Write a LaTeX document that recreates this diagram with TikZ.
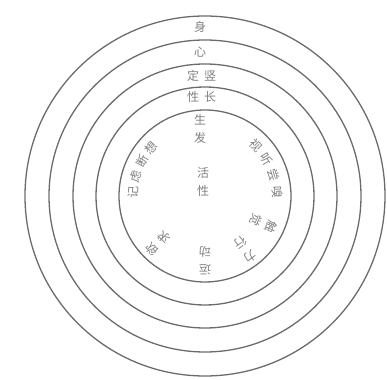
\documentclass[tikz,border=0pt]{standalone}
\usepackage{fontspec}
\newfontfamily\cjk{Noto Sans CJK SC}
\definecolor{ringgray}{gray}{0.42}
\definecolor{textgray}{gray}{0.5}
\tikzset{
  ring/.style={draw=ringgray, line width=1.3pt},
  lbl/.style={text=textgray, font=\cjk\fontsize{12}{12}\selectfont, inner sep=0pt},
}
\begin{document}
\begin{tikzpicture}[x=1pt,y=1pt]
\useasboundingbox (-205,-183) rectangle (182,196);
\coordinate (O) at (0,0);
\draw[ring] (O) circle[radius=86];
\draw[ring] (O) circle[radius=109];
\draw[ring] (O) circle[radius=132];
\draw[ring] (O) circle[radius=156];
\draw[ring] (O) circle[radius=180];
% ring labels
\node[lbl] (shen) at (-5,169) {身};
\node[lbl] (xin) at (-5,144) {心};
\node[lbl] (ding) at (-12,120) {定};
\node[lbl] (shu) at (5,120) {竖};
\node[lbl] (xing) at (-12,99) {性};
\node[lbl] (zhang) at (5,99) {长};
% inner centre
\node[lbl] (sheng) at (-5,76) {生};
\node[lbl] (fa) at (-5,58) {发};
\node[lbl] (huo) at (-2,23) {活};
\node[lbl] (xing2) at (-2,5) {性};
% arc: 视听尝嗅
\foreach \a/\c [count=\i] in {45/视,31/听,17/尝,3/嗅}{
  \node[lbl, rotate=\a-90] (r\i) at (\a:72) {\c};
}
% arc: 记虑断想
\foreach \a/\c [count=\i] in {177/记,164/虑,151/断,138/想}{
  \node[lbl, rotate=\a-90] (l\i) at (\a:72) {\c};
}
% radial pairs
\node[lbl, rotate=-115] (chu) at (-25:73) {触};
\node[lbl, rotate=-115] (jue) at (-25:56) {觉};
\node[lbl, rotate=-143] (li) at (-53:76) {力};
\node[lbl, rotate=-143] (xingx) at (-53:59) {行};
\node[lbl, rotate=180] (yun) at (-90:74) {运};
\node[lbl, rotate=180] (dong) at (-90:56) {动};
\node[lbl, rotate=135] (yu) at (-135:75) {欲};
\node[lbl, rotate=135] (qiu) at (-135:58) {求};
\end{tikzpicture}
\end{document}
